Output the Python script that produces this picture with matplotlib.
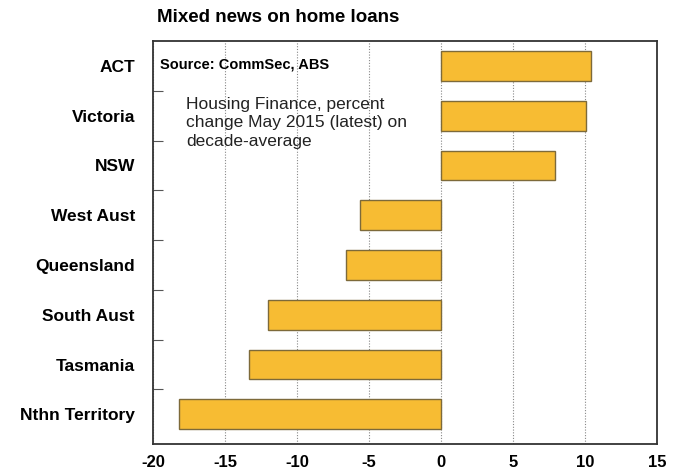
import matplotlib
matplotlib.use("Agg")
import matplotlib.pyplot as plt
import numpy as np

plt.rcParams['font.family'] = ['Liberation Sans', 'DejaVu Sans']

# Housing finance, % change May 2015 on decade-average
states = ['ACT', 'Victoria', 'NSW', 'West Aust', 'Queensland',
          'South Aust', 'Tasmania', 'Nthn Territory']
pct_change = [10.4, 10.1, 7.9, -5.6, -6.6, -12.0, -13.3, -18.2]
x_ticks = [-20, -15, -10, -5, 0, 5, 10, 15]

fig = plt.figure(figsize=(6.78, 4.72), dpi=100)
ax = fig.add_axes([0.2257, 0.059, 0.969 - 0.2257, 0.854])

ypos = np.arange(len(states))
ax.barh(ypos, pct_change, height=0.6, color='#F7BC33',
        edgecolor='#7d6a3a', linewidth=1.0, zorder=3)

ax.set_xlim(-20, 15)
ax.set_ylim(len(states) - 0.4, -0.5)

ax.set_xticks(x_ticks)
ax.set_xticklabels([str(v) for v in x_ticks], fontsize=12, fontweight='bold')
ax.tick_params(axis='x', length=0, pad=8)

# category names sit between the tick marks
ax.set_yticks(ypos)
ax.set_yticklabels(states, fontsize=12.5, fontweight='bold')
ax.set_yticks(ypos[:-1] + 0.5, minor=True)
ax.tick_params(axis='y', which='major', length=0, pad=13)
ax.tick_params(axis='y', which='minor', direction='in', length=7,
               width=0.8, color='#555555')

ax.grid(axis='x', linestyle=(0, (1, 1.5)), color='#888888', linewidth=0.8, zorder=0)
for s in ax.spines.values():
    s.set_color('#333333')
    s.set_linewidth(1.3)

fig.text(0.41, 0.962, 'Mixed news on home loans', ha='center', va='center',
         fontsize=13.5, fontweight='bold')
ax.text(0.014, 0.958, 'Source: CommSec, ABS', transform=ax.transAxes,
        fontsize=10.5, fontweight='bold', va='top', ha='left')
ax.text(0.066, 0.862, 'Housing Finance, percent\nchange May 2015 (latest) on\ndecade-average',
        transform=ax.transAxes, fontsize=12.5, va='top', ha='left',
        linespacing=1.3, color='#222222')

fig.savefig('out.png', dpi=100)
